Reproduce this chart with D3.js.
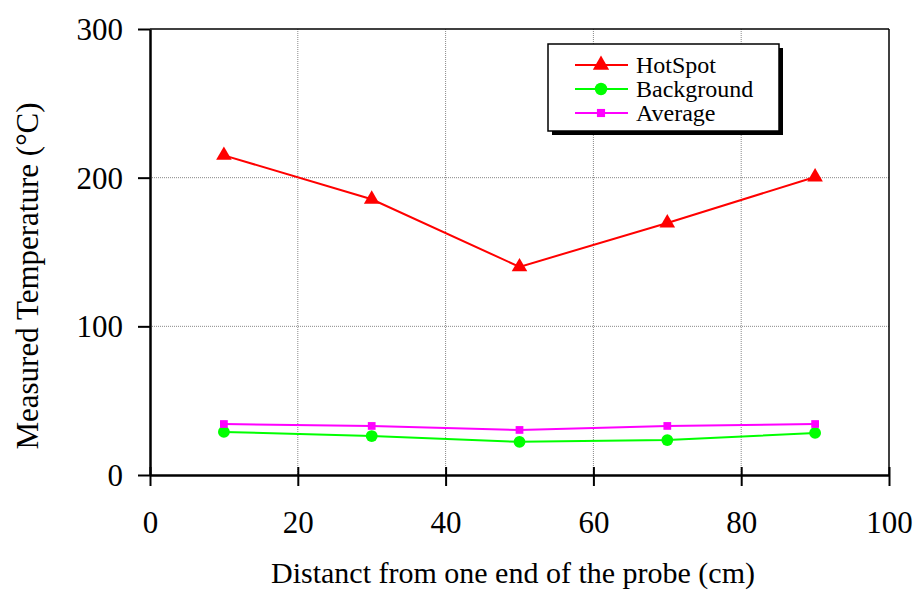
<!DOCTYPE html>
<html><head><meta charset="utf-8">
<script src="https://cdn.jsdelivr.net/npm/d3@7/dist/d3.min.js"></script>
<style>body{margin:0;background:#fff}svg{display:block}text{font-family:"Liberation Serif","Times New Roman",serif;fill:#000}</style>
</head><body><svg id="c" width="914" height="593"></svg>
<script>
const xValues = [10, 30, 50, 70, 90];
const hotSpot = [215, 185.5, 140, 169.5, 200.5];
const background = [29, 26.2, 22.3, 23.5, 28.3];
const average = [34.3, 33, 30.3, 33, 34.3];
const xTicks = [0, 20, 40, 60, 80, 100];
const yTicks = [0, 100, 200, 300];
const seriesNames = ["HotSpot", "Background", "Average"];

const svg = d3.select("#c");
const L = 150, R = 889, T = 29, B = 475;
const x = d3.scaleLinear().domain([0, 100]).range([L, R]);
const y = d3.scaleLinear().domain([0, 300]).range([B, T]);

// grid
const g = svg.append("g");
g.selectAll(".vg").data(xTicks.slice(1, -1)).join("line")
  .attr("x1", d => x(d)).attr("x2", d => x(d)).attr("y1", T).attr("y2", B)
  .attr("stroke", "#888").attr("stroke-width", 1).attr("stroke-dasharray", "1,1");
g.selectAll(".hg").data(yTicks.slice(1, -1)).join("line")
  .attr("x1", L).attr("x2", R).attr("y1", d => y(d)).attr("y2", d => y(d))
  .attr("stroke", "#888").attr("stroke-width", 1).attr("stroke-dasharray", "1,1");

// frame
svg.append("line").attr("x1", L).attr("x2", R).attr("y1", T).attr("y2", T).attr("stroke", "#000").attr("stroke-width", 1.5);
svg.append("line").attr("x1", R).attr("x2", R).attr("y1", T).attr("y2", B).attr("stroke", "#000").attr("stroke-width", 1.5);

// axes
const xAxis = d3.axisBottom(x).tickValues(xTicks).tickSize(11).tickSizeOuter(0).tickPadding(25);
const ax = svg.append("g").attr("transform", `translate(0,${B})`).call(xAxis);
ax.select(".domain").attr("stroke-width", 2.5);
ax.selectAll(".tick line").attr("stroke-width", 2).attr("y1", -8);
ax.selectAll(".tick text").attr("font-size", 31).attr("font-family", "Liberation Serif");

const yAxis = d3.axisLeft(y).tickValues(yTicks).tickSize(12).tickSizeOuter(0).tickPadding(15);
const ay = svg.append("g").attr("transform", `translate(${L},0)`).call(yAxis);
ay.select(".domain").attr("stroke-width", 2.5);
ay.selectAll(".tick line").attr("stroke-width", 2);
ay.selectAll(".tick text").attr("font-size", 31).attr("font-family", "Liberation Serif").attr("dy", "0.34em");

// titles
svg.append("text").attr("x", 513).attr("y", 583).attr("text-anchor", "middle")
  .attr("font-size", 30).text("Distanct from one end of the probe (cm)");
svg.append("text").attr("transform", `translate(38,276) rotate(-90)`).attr("text-anchor", "middle")
  .attr("font-size", 31).text("Measured Temperature (°C)");

// series
const series = [
  {name: seriesNames[0], vals: hotSpot, color: "#ff0000", sym: d3.symbolTriangle, size: 105},
  {name: seriesNames[1], vals: background, color: "#00ff00", sym: d3.symbolCircle, size: 110},
  {name: seriesNames[2], vals: average, color: "#ff00ff", sym: d3.symbolSquare, size: 60}
];
const line = d3.line().x((d, i) => x(xValues[i])).y(d => y(d));
series.forEach(s => {
  svg.append("path").attr("d", line(s.vals)).attr("fill", "none").attr("stroke", s.color).attr("stroke-width", 2);
  svg.selectAll(null).data(s.vals).join("path")
    .attr("d", d3.symbol(s.sym, s.size))
    .attr("transform", (d, i) => `translate(${x(xValues[i])},${y(d)})`)
    .attr("fill", s.color);
});

// legend
const lg = svg.append("g");
lg.append("rect").attr("x", 552).attr("y", 48).attr("width", 231).attr("height", 87).attr("fill", "#000");
lg.append("rect").attr("x", 548).attr("y", 44).attr("width", 231).attr("height", 87).attr("fill", "#fff").attr("stroke", "#000").attr("stroke-width", 1.5);
series.forEach((s, i) => {
  const yy = 65 + i * 24;
  lg.append("line").attr("x1", 575).attr("x2", 628).attr("y1", yy).attr("y2", yy).attr("stroke", s.color).attr("stroke-width", 2);
  lg.append("path").attr("d", d3.symbol(s.sym, s.size * 1.1)).attr("transform", `translate(601,${yy})`).attr("fill", s.color);
  lg.append("text").attr("x", 636).attr("y", yy + 8).attr("font-size", 24).text(s.name);
});
</script></body></html>
